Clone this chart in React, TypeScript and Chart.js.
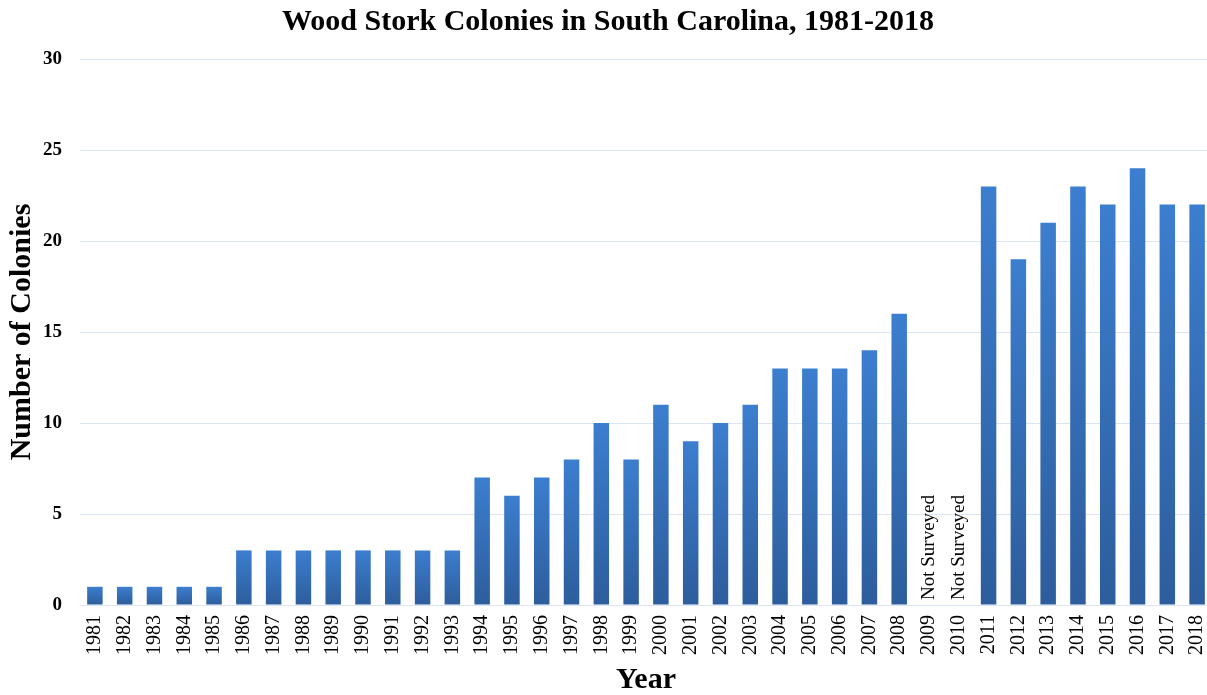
import React, { useEffect, useRef } from "react";
import { Chart, registerables } from "chart.js";

Chart.register(...registerables);

const years: string[] = [
  "1981", "1982", "1983", "1984", "1985", "1986", "1987", "1988", "1989", "1990",
  "1991", "1992", "1993", "1994", "1995", "1996", "1997", "1998", "1999", "2000",
  "2001", "2002", "2003", "2004", "2005", "2006", "2007", "2008", "2009", "2010",
  "2011", "2012", "2013", "2014", "2015", "2016", "2017", "2018",
];

const colonies: (number | null)[] = [
  1, 1, 1, 1, 1, 3, 3, 3, 3, 3,
  3, 3, 3, 7, 6, 7, 8, 10, 8, 11,
  9, 10, 11, 13, 13, 13, 14, 16, null, null,
  23, 19, 21, 23, 22, 24, 22, 22,
];

const missingLabel = "Not Surveyed";
const yTicks: number[] = [0, 5, 10, 15, 20, 25, 30];

const SERIF = "'Liberation Serif', 'Times New Roman', serif";

const notSurveyedPlugin = {
  id: "notSurveyed",
  afterDatasetsDraw(chart: any) {
    const { ctx, scales } = chart;
    const x = scales.x;
    const y = scales.y;
    ctx.save();
    ctx.font = `19px ${SERIF}`;
    ctx.fillStyle = "#000";
    ctx.textAlign = "left";
    ctx.textBaseline = "middle";
    colonies.forEach((v, i) => {
      if (v === null) {
        const px = x.getPixelForValue(i);
        const py = y.getPixelForValue(0) - 5;
        ctx.save();
        ctx.translate(px, py);
        ctx.rotate(-Math.PI / 2);
        ctx.fillText(missingLabel, 0, 0);
        ctx.restore();
      }
    });
    ctx.restore();
  },
};

function barGradient(context: any) {
  const chart = context.chart;
  const { ctx, chartArea, scales } = chart;
  if (!chartArea || !scales.y) return "#3574c0";
  const v = context.raw;
  if (v === null || v === undefined) return "#3574c0";
  const top = scales.y.getPixelForValue(v);
  const base = scales.y.getPixelForValue(0);
  if (!isFinite(top) || !isFinite(base) || top === base) return "#3574c0";
  const g = ctx.createLinearGradient(0, top, 0, base);
  g.addColorStop(0, "#3c7ecf");
  g.addColorStop(1, "#2d5d9c");
  return g;
}

export default function App() {
  const canvasRef = useRef<HTMLCanvasElement | null>(null);

  useEffect(() => {
    if (!canvasRef.current) return;
    const chart = new Chart(canvasRef.current, {
      type: "bar",
      data: {
        labels: years,
        datasets: [
          {
            data: colonies,
            backgroundColor: barGradient,
            borderWidth: 0,
            barPercentage: 0.52,
            categoryPercentage: 1.0,
          },
        ],
      },
      options: {
        animation: false,
        responsive: false,
        maintainAspectRatio: false,
        layout: { padding: { left: 4, right: 0, top: 0, bottom: 0 } },
        plugins: {
          legend: { display: false },
          tooltip: { enabled: false },
          title: {
            display: true,
            text: "Wood Stork Colonies in South Carolina, 1981-2018",
            color: "#000",
            font: { family: SERIF, size: 30, weight: "bold", lineHeight: 1.2 },
            padding: { top: 4, bottom: 19 },
          },
        },
        scales: {
          x: {
            afterFit(scale: any) {
              scale.paddingRight = 0;
              scale.paddingLeft = 0;
            },
            grid: { display: false, drawTicks: false },
            border: { display: true, color: "#dae4f2" },
            ticks: {
              color: "#000",
              font: { family: SERIF, size: 20 },
              maxRotation: 90,
              minRotation: 90,
              autoSkip: false,
              padding: 10,
            },
            title: {
              display: true,
              text: "Year",
              color: "#000",
              font: { family: SERIF, size: 30, weight: "bold", lineHeight: 1.0 },
              padding: { top: 0, bottom: 0 },
            },
          },
          y: {
            min: 0,
            max: 30,
            afterBuildTicks(scale: any) {
              scale.ticks = yTicks.map((v) => ({ value: v }));
            },
            afterFit(scale: any) {
              scale.width = 76;
            },
            grid: { color: "#dae4f2", lineWidth: 1, drawTicks: false },
            border: { display: false },
            ticks: {
              color: "#000",
              font: { family: SERIF, size: 19, weight: "bold" },
              padding: 18,
            },
            title: {
              display: true,
              text: "Number of Colonies",
              color: "#000",
              font: { family: SERIF, size: 30, weight: "bold", lineHeight: 1.2 },
              padding: { top: 0, bottom: 3 },
            },
          },
        },
      },
      plugins: [notSurveyedPlugin],
    } as any);
    return () => chart.destroy();
  }, []);

  return (
    <div style={{ position: "absolute", left: 0, top: 0, width: 1207, height: 695, overflow: "hidden", background: "#fff" }}>
      <canvas ref={canvasRef} width={1212} height={695} style={{ width: 1212, height: 695, display: "block" }} />
    </div>
  );
}
